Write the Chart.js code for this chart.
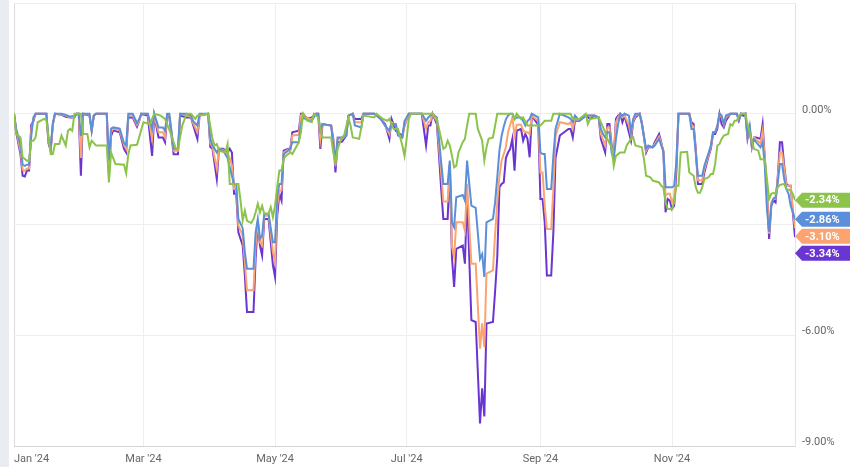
<!DOCTYPE html>
<html>
<head>
<meta charset="utf-8">
<script src="https://cdn.jsdelivr.net/npm/chart.js@4.4.1/dist/chart.umd.min.js"></script>
<style>
    html, body { margin: 0; padding: 0; }
    body {
        width: 850px; height: 467px; overflow: hidden;
        background: linear-gradient(to right, #e9edf2 0, #e9edf2 9px, #ffffff 9px);
    }
    #wrap { position: absolute; left: 0; top: 0; width: 850px; height: 467px; }
</style>
</head>
<body>
<div id="wrap"><canvas id="ddChart" width="850" height="467"></canvas></div>
<script>
// --- Data (day of year 2024, drawdown in %) ---
const mainDays = [0, 1, 3, 4, 5, 6, 7, 8, 9, 10, 15, 16, 17, 18, 19, 22, 24, 26, 28, 29, 30, 31, 32, 35, 36, 37, 38, 43, 44, 45, 46, 49, 51, 52, 53, 55, 57, 58, 59, 62, 64, 65, 67, 69, 70, 71, 72, 74, 76, 77, 80, 82, 83, 85, 86, 90, 91, 92, 94, 95, 97, 99, 100, 101, 102, 103, 104, 106, 107, 108, 111, 112, 113, 114, 115, 116, 118, 120, 121, 122, 123, 124, 125, 127, 128, 129, 132, 133, 134, 136, 138, 140, 141, 142, 143, 147, 148, 149, 150, 152, 154, 155, 157, 158, 161, 162, 167, 170, 172, 174, 175, 177, 178, 180, 181, 183, 189, 191, 192, 193, 194, 196, 197, 198, 199, 201, 202, 203, 204, 205, 208, 209, 210, 212, 214, 216, 217, 218, 219, 222, 223, 224, 225, 226, 227, 228, 229, 230, 231, 232, 233, 235, 236, 237, 238, 239, 240, 243, 244, 245, 246, 247, 249, 250, 251, 253, 257, 258, 259, 260, 262, 265, 267, 269, 271, 272, 273, 274, 275, 276, 277, 278, 279, 280, 281, 282, 283, 285, 286, 287, 288, 290, 291, 293, 294, 296, 297, 299, 300, 301, 302, 303, 304, 305, 306, 307, 308, 313, 314, 315, 316, 317, 319, 320, 321, 322, 323, 324, 325, 326, 327, 328, 329, 330, 332, 335, 336, 337, 338, 339, 340, 341, 342, 343, 344, 346, 347, 348, 349, 350, 351, 352, 353, 354, 355, 356, 357, 358, 359, 360, 361, 362];

const purple = [0, -0.5, -1.1, -1.68, -1.7, -1.54, -1.54, -0.3, -0.2, 0, 0, -0.8, -1.0, -0.3, 0, -0.03, -0.08, -0.1, -0.1, 0, 0, -1.68, 0, -0.05, -0.45, -0.05, 0, 0, -1.68, -0.6, -0.45, -0.5, -0.95, -1.05, -0.1, -0.1, -0.35, -0.2, 0, -0.05, -1.14, -0.05, -0.64, -0.64, -0.77, -0.05, -0.1, -1.1, -1.1, -0.05, -0.1, -0.1, -0.3, -0.68, -0.05, 0, -0.9, -0.95, -1.77, -0.95, -0.95, -1.05, -0.95, -1.05, -2.17, -2.17, -3.21, -3.57, -4.38, -5.37, -5.37, -3.93, -2.94, -3.57, -3.84, -2.85, -2.85, -4.1, -4.42, -2.76, -2.17, -2.35, -1.0, -0.95, -1.0, -0.5, -0.46, 0, 0, -0.14, -0.1, 0, 0, -0.95, -0.28, -0.32, -0.68, -1.59, -0.77, -0.76, -0.59, -0.05, 0, -0.14, -0.14, 0, 0, -0.14, -0.28, -0.68, -0.14, -0.46, -0.5, -0.6, -0.32, 0, 0, -0.86, -0.32, -0.32, 0, -0.28, -1.13, -2.04, -2.85, -2.85, -1.4, -3.9, -4.69, -3.66, -3.57, -4.06, -2.17, -5.59, -5.64, -8.39, -7.44, -8.2, -5.68, -5.64, -4.8, -3.88, -1.99, -1.9, -1.86, -1.2, -1.05, -0.95, -0.68, -1.54, -0.46, -0.41, -0.73, -0.55, -0.68, -1.18, -0.05, -0.3, -2.31, -2.31, -2.94, -4.38, -4.38, -3.21, -1.2, -0.59, -0.41, -0.41, -0.64, -0.19, -0.19, -0.05, -0.14, -0.05, -0.1, -0.68, -0.86, -1.05, -0.28, -0.28, -0.86, -1.14, -0.14, -0.05, 0, -0.23, -0.05, -0.5, -0.73, -0.23, -0.1, 0, -0.23, -1.05, -0.91, -0.91, -0.77, -0.55, -0.77, -1.05, -2.67, -2.31, -2.35, -2.58, -2.49, -1.59, 0, 0, -0.23, -0.28, -0.95, -1.9, -1.9, -1.59, -1.36, -1.14, -0.95, -0.55, -0.55, -0.41, 0, -0.28, -0.37, -0.19, 0, 0, -0.19, 0, -0.05, 0, -0.68, -0.41, -0.91, -0.64, -0.64, -0.68, -0.28, -1.2, -2.1, -3.39, -2.49, -2.35, -2.4, -1.72, -0.77, -0.77, -1.41, -1.9, -1.95, -1.95, -2.67, -3.34];

const orange = [0, -0.45, -1.0, -1.52, -1.55, -1.48, -1.48, -0.45, -0.15, 0, 0, -0.75, -0.95, -0.3, 0, -0.02, -0.05, -0.1, -0.08, 0, 0, -1.2, 0, -0.03, -0.45, -0.05, 0, 0, -1.5, -0.5, -0.4, -0.45, -0.85, -0.95, -0.05, -0.05, -0.3, -0.2, 0, 0, -0.68, -0.05, -0.5, -0.5, -0.64, -0.02, -0.05, -1.0, -1.0, 0, -0.05, -0.08, -0.25, -0.5, -0.05, 0, -0.8, -0.9, -1.5, -0.95, -0.98, -1.1, -1.2, -1.4, -2.04, -2.04, -3.03, -3.3, -4.02, -4.78, -4.78, -3.57, -2.9, -3.48, -3.57, -2.76, -2.76, -3.75, -4.02, -2.49, -2.08, -2.08, -1.05, -0.97, -1.0, -0.59, -0.57, -0.05, 0, -0.14, -0.14, 0, 0, -0.7, -0.28, -0.32, -0.77, -1.41, -0.68, -0.68, -0.59, -0.05, 0, -0.23, -0.23, 0, 0, -0.14, -0.32, -0.55, -0.23, -0.32, -0.55, -0.65, -0.3, 0, 0, -0.41, -0.23, -0.2, 0, -0.2, -0.9, -1.6, -2.38, -2.38, -1.35, -3.6, -3.88, -2.94, -2.94, -3.16, -1.9, -4.06, -4.06, -6.36, -5.68, -6.32, -4.33, -4.24, -3.25, -2.4, -1.7, -1.27, -1.09, -0.9, -0.5, -0.3, -0.1, -0.59, -0.3, -0.3, -0.45, -0.5, -0.5, -0.55, -0.05, -0.2, -1.59, -1.59, -2.49, -3.12, -3.12, -2.04, -0.6, -0.23, -0.28, -0.23, -0.41, -0.14, -0.19, -0.05, -0.05, -0.05, -0.1, -0.55, -0.7, -0.86, -0.37, -0.37, -0.95, -1.14, -0.23, -0.1, 0, -0.1, -0.05, -0.3, -0.59, -0.2, -0.05, 0, -0.25, -1.0, -0.88, -0.9, -0.82, -0.62, -0.8, -1.0, -2.22, -2.17, -2.17, -2.4, -2.26, -1.3, 0, 0, -0.3, -0.35, -1.0, -1.8, -1.8, -1.5, -1.3, -1.1, -0.9, -0.5, -0.5, -0.35, 0, -0.1, -0.3, -0.1, 0, 0, -0.15, 0, 0, 0, -0.62, -0.38, -0.88, -0.64, -0.7, -0.8, -0.46, -1.2, -2.2, -3.25, -2.4, -2.3, -2.3, -1.75, -1.05, -1.05, -1.5, -1.95, -1.95, -1.95, -2.6, -3.10];

const blue = [0, -0.4, -0.85, -1.38, -1.41, -1.38, -1.38, -0.6, -0.1, 0, 0, -0.7, -0.91, -0.25, 0, 0, -0.03, -0.08, -0.05, 0, 0, -0.6, 0, 0, -0.46, -0.05, 0, 0, -1.27, -0.4, -0.37, -0.4, -0.8, -0.85, 0, 0, -0.25, -0.15, 0, 0, -0.41, 0, -0.37, -0.37, -0.46, 0, 0, -0.95, -0.95, 0, 0, -0.05, -0.2, -0.32, 0, 0, -0.68, -0.86, -1.05, -0.95, -1.0, -1.2, -1.45, -1.68, -1.9, -1.9, -2.85, -3.1, -3.75, -4.2, -4.2, -3.21, -2.85, -3.39, -3.3, -2.71, -2.71, -3.48, -3.48, -2.22, -1.9, -1.9, -1.1, -1.0, -0.95, -0.77, -0.77, -0.28, -0.1, -0.18, -0.19, 0, 0, -0.45, -0.28, -0.32, -0.86, -1.23, -0.64, -0.64, -0.59, -0.05, 0, -0.32, -0.37, 0, 0, -0.14, -0.32, -0.46, -0.28, -0.28, -0.59, -0.64, -0.2, 0, 0, -0.19, -0.1, -0.05, 0, -0.1, -0.68, -1.32, -1.9, -1.9, -1.27, -2.95, -3.07, -2.26, -2.2, -2.35, -1.27, -2.49, -2.55, -3.93, -3.8, -4.42, -2.94, -2.85, -2.4, -1.72, -1.0, -0.6, -0.35, -0.15, -0.05, 0, 0, -0.14, -0.1, -0.1, -0.2, -0.32, -0.2, -0.14, 0, -0.1, -1.05, -1.09, -1.09, -2.04, -2.04, -1.14, -0.41, 0, -0.1, -0.14, -0.23, -0.05, -0.19, -0.05, -0.05, -0.05, -0.1, -0.41, -0.55, -0.64, -0.5, -0.5, -1.05, -1.23, -0.68, -0.28, 0, -0.05, 0, -0.05, -0.5, -0.14, 0, 0, -0.28, -0.95, -0.86, -0.91, -0.86, -0.68, -0.86, -1.0, -1.99, -1.99, -1.99, -1.99, -1.95, -1.32, 0, 0, -0.41, -0.41, -1.05, -1.68, -1.68, -1.41, -1.23, -1.05, -0.86, -0.5, -0.5, -0.32, 0, -0.05, -0.28, -0.05, 0, 0, -0.14, 0, 0, 0, -0.59, -0.32, -0.86, -0.7, -0.77, -0.91, -0.77, -1.4, -2.6, -3.2, -2.49, -2.3, -2.26, -1.86, -1.36, -1.36, -1.77, -2.04, -2.17, -2.49, -2.67, -2.86];

const greenDays = [0, 1, 3, 4, 6, 7, 8, 9, 10, 11, 14, 15, 17, 18, 19, 21, 22, 24, 25, 26, 27, 28, 31, 32, 34, 35, 36, 38, 43, 44, 45, 47, 51, 52, 53, 54, 57, 58, 60, 63, 65, 68, 70, 71, 73, 75, 76, 77, 78, 80, 82, 84, 85, 90, 92, 93, 94, 95, 98, 99, 100, 104, 105, 106, 107, 108, 110, 111, 112, 113, 114, 115, 116, 118, 119, 120, 121, 122, 123, 124, 125, 126, 128, 129, 132, 133, 134, 136, 138, 139, 141, 142, 143, 147, 148, 149, 150, 152, 153, 155, 156, 157, 160, 162, 167, 168, 171, 173, 174, 176, 178, 180, 181, 182, 183, 184, 194, 196, 197, 198, 199, 200, 201, 202, 203, 204, 205, 206, 207, 208, 209, 210, 211, 214, 215, 217, 218, 219, 220, 222, 223, 224, 231, 232, 233, 235, 236, 238, 244, 246, 249, 250, 258, 259, 262, 265, 266, 267, 271, 272, 274, 275, 277, 278, 279, 281, 283, 284, 286, 287, 288, 291, 292, 293, 295, 296, 299, 300, 301, 302, 303, 305, 306, 307, 308, 309, 312, 313, 315, 316, 317, 318, 319, 320, 322, 323, 324, 325, 326, 327, 328, 329, 331, 332, 333, 334, 335, 336, 337, 339, 340, 342, 343, 345, 346, 348, 349, 350, 351, 352, 353, 354, 355, 357, 358, 360, 361, 362];

const green = [0, -0.55, -0.64, -1.18, -1.27, -1.27, -0.73, -0.73, -0.64, -0.23, -0.14, -0.17, -1.09, -1.09, -0.82, -0.82, -0.59, -0.86, -0.46, -0.41, -0.46, 0, 0, -0.55, -0.55, -0.91, -0.73, -0.86, -0.86, -1.86, -1.05, -1.36, -1.38, -1.61, -1.09, -0.86, -0.84, -0.64, -0.23, -0.28, 0, -0.05, -0.14, -0.28, -0.59, -0.95, -0.95, -0.64, -0.32, 0, 0, -0.14, -0.05, 0, -0.68, -0.86, -0.82, -1.0, -1.05, -0.82, -1.9, -1.9, -2.35, -2.89, -2.62, -2.9, -2.96, -2.85, -2.67, -2.44, -2.67, -2.49, -2.71, -2.71, -2.53, -2.8, -2.49, -1.99, -1.54, -1.54, -1.22, -1.14, -1.05, -1.09, -0.77, -0.5, 0, -0.19, -0.23, 0, -0.1, -0.41, -0.64, -0.64, -1.05, -1.32, -0.95, -0.64, -0.59, -0.1, -0.32, -0.64, -0.68, -0.05, -0.1, 0, -0.14, -0.19, -0.14, -0.41, -0.41, -0.86, -1.14, -0.68, -0.14, 0, 0, -0.14, -0.41, -0.68, -0.95, -0.91, -0.73, -0.86, -1.14, -1.45, -1.41, -1.05, -0.91, -0.77, -0.68, -0.32, 0, 0, -0.41, -0.73, -1.27, -0.91, -0.68, -0.64, -0.32, 0, 0, -0.14, 0, -0.14, -0.1, -0.32, -0.32, -0.19, -0.19, 0, 0, -0.14, -0.14, 0, -0.28, -0.14, -0.1, -0.23, -0.5, -0.68, -0.91, -1.41, -1.14, -1.05, -1.05, -0.86, -0.68, -0.64, -0.86, -0.91, -1.23, -1.68, -1.72, -1.81, -1.86, -1.95, -2.0, -2.4, -2.58, -2.58, -2.4, -1.95, -1.95, -1.05, -1.03, -1.59, -1.68, -1.99, -2.14, -2.14, -1.99, -1.77, -1.72, -1.63, -1.63, -1.36, -0.86, -0.82, -0.68, -0.59, -0.55, -0.28, -0.32, -0.19, -0.19, -0.05, 0, 0, -0.28, -0.73, -0.95, -1.0, -1.23, -1.23, -1.77, -2.31, -2.17, -2.14, -2.17, -1.99, -1.93, -1.9, -2.04, -2.08, -2.17, -2.34];

// axis ticks
const monthDays = [0, 60, 121, 182, 244, 305];
const monthLabels = ["Jan '24", "Mar '24", "May '24", "Jul '24", "Sep '24", "Nov '24"];
const yTicks = [-9, -6, -3, 0, 3];

const seriesNames = ['green', 'blue', 'orange', 'purple'];
const seriesColors = ['#8cc34b', '#5b8fd9', '#fba46f', '#6a35d0'];

const toPoints = (days, vals) => days.map((d, i) => ({ x: d, y: vals[i] }));
const seriesData = [
    toPoints(greenDays, green),
    toPoints(mainDays, blue),
    toPoints(mainDays, orange),
    toPoints(mainDays, purple)
];

// draws x labels (first one left-aligned) and the end-value tags
const labelsPlugin = {
    id: 'labelsPlugin',
    afterDraw(chart) {
        const ctx = chart.ctx;
        const xs = chart.scales.x;
        const ys = chart.scales.y;
        ctx.save();
        ctx.font = '11px Roboto';
        ctx.fillStyle = '#666666';
        ctx.textBaseline = 'middle';
        monthDays.forEach((d, i) => {
            ctx.textAlign = i === 0 ? 'left' : 'center';
            ctx.fillText(monthLabels[i], xs.getPixelForValue(d), 459);
        });

        // end tags, pushed apart so they do not overlap
        const tags = seriesData.map((pts, i) => {
            const last = pts[pts.length - 1].y;
            return { y: ys.getPixelForValue(last), v: last, color: seriesColors[i] };
        }).sort((a, b) => a.y - b.y);
        for (let i = 1; i < tags.length; i++) {
            if (tags[i].y < tags[i - 1].y + 17) tags[i].y = tags[i - 1].y + 17;
        }
        const x0 = chart.chartArea.right;
        const x1 = chart.width;
        tags.forEach(t => {
            ctx.fillStyle = t.color;
            ctx.beginPath();
            ctx.moveTo(x0, t.y);
            ctx.lineTo(x0 + 7, t.y - 7.5);
            ctx.lineTo(x1, t.y - 7.5);
            ctx.lineTo(x1, t.y + 7.5);
            ctx.lineTo(x0 + 7, t.y + 7.5);
            ctx.closePath();
            ctx.fill();
            ctx.fillStyle = '#ffffff';
            ctx.font = 'bold 11px Roboto';
            ctx.textAlign = 'left';
            ctx.fillText(t.v.toFixed(2) + '%', x0 + 10, t.y + 0.5);
        });
        ctx.restore();
    }
};

Chart.defaults.font.family = 'Roboto';

new Chart(document.getElementById('ddChart').getContext('2d'), {
    type: 'line',
    data: {
        datasets: seriesData.map((pts, i) => ({
            label: seriesNames[i],
            data: pts,
            borderColor: seriesColors[i],
            borderWidth: 2,
            pointRadius: 0,
            tension: 0,
            fill: false
        }))
    },
    options: {
        responsive: false,
        animation: false,
        devicePixelRatio: 1,
        layout: { padding: { left: 14, top: 3, right: 0, bottom: 0 } },
        plugins: {
            legend: { display: false },
            tooltip: { enabled: false }
        },
        scales: {
            x: {
                type: 'linear',
                min: 0,
                max: 362,
                afterBuildTicks: s => { s.ticks = monthDays.map(v => ({ value: v })); },
                afterFit: s => { s.height = 21; s.paddingLeft = 0; s.paddingRight = 0; },
                ticks: { display: false },
                grid: {
                    color: c => c.index === 0 ? '#dcdcdc' : '#eeeeee',
                    lineWidth: 1,
                    drawTicks: false
                },
                border: { display: false }
            },
            y: {
                position: 'right',
                min: -9,
                max: 3,
                afterBuildTicks: s => { s.ticks = yTicks.map(v => ({ value: v })); },
                afterFit: s => { s.width = 55; s.paddingTop = 0; s.paddingBottom = 0; },
                ticks: {
                    padding: 7,
                    labelOffset: -4,
                    color: '#666666',
                    font: { size: 11 },
                    callback: v => v > 0 ? '' : v.toFixed(2) + '%'
                },
                grid: {
                    color: c => c.tick && c.tick.value === -9 ? '#d4d4d4' : '#eeeeee',
                    drawTicks: false
                },
                border: { display: true, color: '#e2e2e2' }
            }
        }
    },
    plugins: [labelsPlugin]
});
</script>
</body>
</html>
